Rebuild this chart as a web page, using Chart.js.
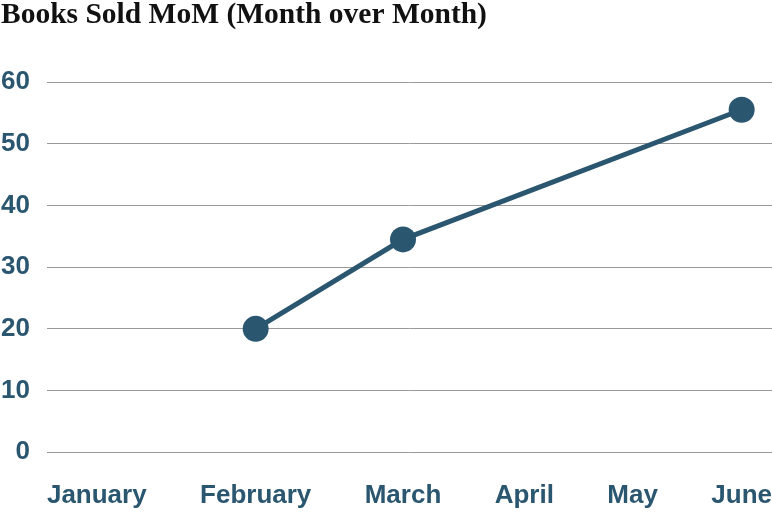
<!DOCTYPE html>
<html>
<head>
<meta charset="utf-8">
<script src="https://cdn.jsdelivr.net/npm/chart.js@4/dist/chart.umd.min.js"></script>
<style>
  html, body { margin: 0; padding: 0; background: #fff; }
  #wrap { width: 772px; height: 518px; }
</style>
</head>
<body>
<div id="wrap"><canvas id="chart"></canvas></div>
<script>
var months = ['January', 'February', 'March', 'April', 'May', 'June'];
var booksSold = [null, 20, 34.5, null, null, 55.5];
var yTicks = [0, 10, 20, 30, 40, 50, 60];

var navy = '#2a5670';

// labels sit in a row with equal gaps between them, points at label centres
class GapCategoryScale extends Chart.CategoryScale {
    getPixelForValue(value) {
        if (typeof value !== 'number') value = this.parse(value);
        if (value === null || isNaN(value)) return NaN;
        var labels = this.getLabels();
        var ctx = this.ctx;
        ctx.save();
        ctx.font = Chart.helpers.toFont(this.options.ticks.font).string;
        var widths = labels.map(function(l) { return ctx.measureText(l).width; });
        ctx.restore();
        var total = widths.reduce(function(a, b) { return a + b; }, 0);
        var gap = (this.right - this.left - total) / (labels.length - 1);
        var x = this.left;
        var i = Math.round(value);
        for (var j = 0; j < i; j++) x += widths[j] + gap;
        return x + widths[i] / 2;
    }
    // labels stay inside the plot, no extra room at the ends
    _calculatePadding() {
        this.paddingLeft = this.paddingRight = this.paddingTop = this.paddingBottom = 0;
    }
}
GapCategoryScale.id = 'gapCategory';
GapCategoryScale.defaults = {};
Chart.register(GapCategoryScale);

new Chart(document.getElementById('chart'), {
    type: 'line',
    data: {
        labels: months,
        datasets: [{
            label: 'Books Sold',
            data: booksSold,
            spanGaps: true,
            borderColor: navy,
            backgroundColor: navy,
            borderWidth: 5,
            pointRadius: 13,
            pointHoverRadius: 13,
            pointBorderWidth: 0,
            tension: 0
        }]
    },
    options: {
        responsive: true,
        maintainAspectRatio: false,
        animation: false,
        layout: { autoPadding: false, padding: { left: 1, right: 0, top: 0, bottom: 6.5 } },
        plugins: {
            legend: { display: false },
            tooltip: { enabled: false },
            title: {
                display: true,
                text: 'Books Sold MoM (Month over Month)',
                align: 'start',
                color: '#111',
                font: { family: 'Liberation Serif', weight: 'bold', size: 29.5, lineHeight: 1 },
                padding: { top: 0.5, bottom: 52 }
            }
        },
        scales: {
            x: {
                type: 'gapCategory',
                grid: { display: false },
                border: { display: false },
                // padding only between axis and labels, not below them
                afterFit: function(axis) {
                    axis.height -= axis.options.ticks.padding;
                },
                ticks: {
                    color: navy,
                    font: { family: 'Liberation Sans', weight: 'bold', size: 26 },
                    padding: 20,
                    maxRotation: 0,
                    autoSkip: false
                }
            },
            y: {
                min: 0,
                max: 60,
                afterBuildTicks: function(axis) {
                    axis.ticks = yTicks.map(function(v) { return { value: v }; });
                },
                afterFit: function(axis) {
                    axis.width -= axis.options.ticks.padding;
                },
                grid: { color: '#999', lineWidth: 1, drawTicks: false },
                border: { display: false },
                ticks: {
                    color: navy,
                    font: { family: 'Liberation Sans', weight: 'bold', size: 26 },
                    padding: 17
                }
            }
        }
    }
});
</script>
</body>
</html>
